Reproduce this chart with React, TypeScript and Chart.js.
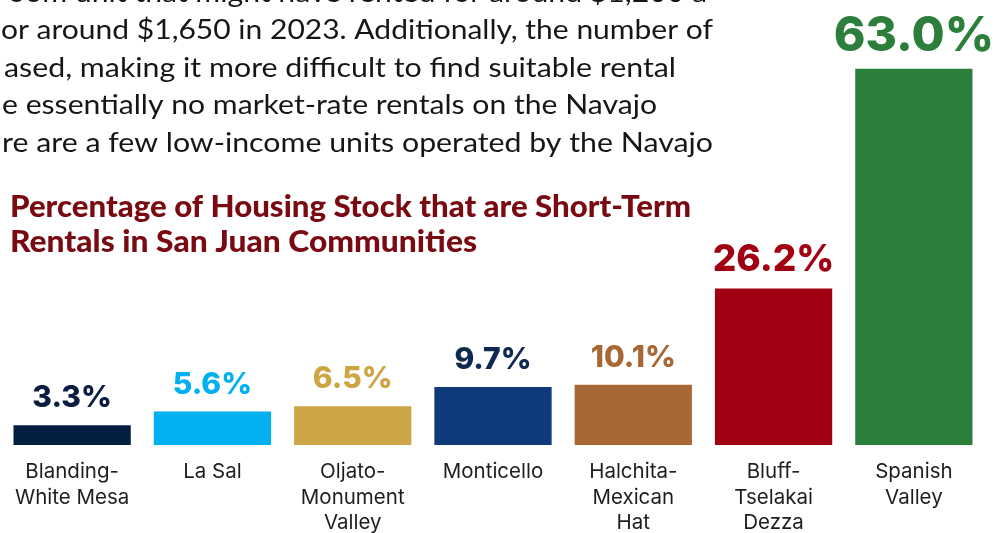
import React, { useEffect, useRef } from "react";
import { Chart, registerables } from "chart.js";

Chart.register(...registerables);

// ---- Data ----
const categories: string[][] = [
  ["Blanding-", "White Mesa"],
  ["La Sal"],
  ["Oljato-", "Monument", "Valley"],
  ["Monticello"],
  ["Halchita-", "Mexican", "Hat"],
  ["Bluff-", "Tselakai", "Dezza"],
  ["Spanish", "Valley"],
];
const values: number[] = [3.3, 5.6, 6.5, 9.7, 10.1, 26.2, 63.0];
const valueLabels: string[] = ["3.3%", "5.6%", "6.5%", "9.7%", "10.1%", "26.2%", "63.0%"];

const titleLines: string[] = [
  "Percentage of Housing Stock that are Short-Term",
  "Rentals in San Juan Communities",
];
const bodyLines: string[] = [
  "oom unit that might have rented for around $1,200 a",
  "or around $1,650 in 2023. Additionally, the number of",
  "ased, making it more difficult to find suitable rental",
  "e essentially no market-rate rentals on the Navajo",
  "re are a few low-income units operated by the Navajo",
];

// ---- Styles ----
const barColors = ["#041E42", "#00B0F0", "#CDA544", "#0E3A7C", "#A86836", "#A00012", "#2C7F3B"];
const labelColors = ["#0B1E42", "#00B0F0", "#CDA544", "#0F2A50", "#A86836", "#A00012", "#2C7F3B"];
const labelFontSizes = [30, 30, 30, 30, 30, 37, 48];
// [startX, endX, baselineY]
const bodyLayout: number[][] = [
  [8, 707, 2],
  [1, 713, 39],
  [4, 676, 77],
  [2, 657, 114],
  [2, 713, 152],
];
const titleLayout: number[][] = [
  [10, 691, 217],
  [10, 477, 252],
];

function drawFitted(
  ctx: CanvasRenderingContext2D,
  text: string,
  x: number,
  y: number,
  width: number,
  font: string,
  color: string
) {
  ctx.save();
  ctx.font = font;
  ctx.fillStyle = color;
  ctx.textAlign = "left";
  ctx.textBaseline = "alphabetic";
  const w = ctx.measureText(text).width;
  const s = w > 0 ? width / w : 1;
  ctx.translate(x, y);
  ctx.scale(s, 1);
  ctx.fillText(text, 0, 0);
  ctx.restore();
}

const textPlugin = {
  id: "customText",
  afterDatasetsDraw(chart: any) {
    const ctx: CanvasRenderingContext2D = chart.ctx;
    // paragraph
    bodyLines.forEach((t, i) => {
      const [x0, x1, y] = bodyLayout[i];
      drawFitted(ctx, t, x0, y, x1 - x0, "400 27px Lato", "#161616");
    });
    // title
    titleLines.forEach((t, i) => {
      const [x0, x1, y] = titleLayout[i];
      drawFitted(ctx, t, x0, y, x1 - x0, "900 30px Lato", "#7A0A12");
    });
    const meta = chart.getDatasetMeta(0);
    const xScale = chart.scales.x;
    const yScale = chart.scales.y;
    const base = yScale.getPixelForValue(0);
    meta.data.forEach((bar: any, i: number) => {
      // value label
      ctx.save();
      ctx.font = `800 ${labelFontSizes[i]}px Inter`;
      ctx.fillStyle = labelColors[i];
      ctx.textAlign = "center";
      ctx.textBaseline = "alphabetic";
      ctx.fillText(valueLabels[i], bar.x, bar.y - 18);
      ctx.restore();
      // category label
      ctx.save();
      ctx.font = "400 20.5px Inter";
      ctx.fillStyle = "#1E1E1E";
      ctx.textAlign = "center";
      ctx.textBaseline = "alphabetic";
      const cx = xScale.getPixelForValue(i);
      categories[i].forEach((line, j) => {
        ctx.fillText(line, cx, base + 33 + j * 25.5);
      });
      ctx.restore();
    });
  },
};

export default function App() {
  const canvasRef = useRef<HTMLCanvasElement | null>(null);

  useEffect(() => {
    if (!canvasRef.current) return;
    const chart = new Chart(canvasRef.current, {
      type: "bar",
      data: {
        labels: categories.map((c) => c.join(" ")),
        datasets: [
          {
            data: values,
            backgroundColor: barColors,
            borderWidth: 0,
            barPercentage: 0.836,
            categoryPercentage: 1,
          },
        ],
      },
      options: {
        responsive: false,
        animation: false,
        devicePixelRatio: 1,
        layout: { padding: { left: 2, right: 22, top: 39, bottom: 88 } },
        plugins: {
          legend: { display: false },
          title: { display: false },
          tooltip: { enabled: false },
        },
        scales: {
          x: { display: false },
          y: { display: false, min: 0, max: 68 },
        },
      },
      plugins: [textPlugin],
    });
    return () => chart.destroy();
  }, []);

  return (
    <div style={{ position: "fixed", left: 0, top: 0, width: 1006, height: 533, background: "#ffffff" }}>
      <canvas ref={canvasRef} width={1006} height={533} style={{ display: "block" }} />
    </div>
  );
}
